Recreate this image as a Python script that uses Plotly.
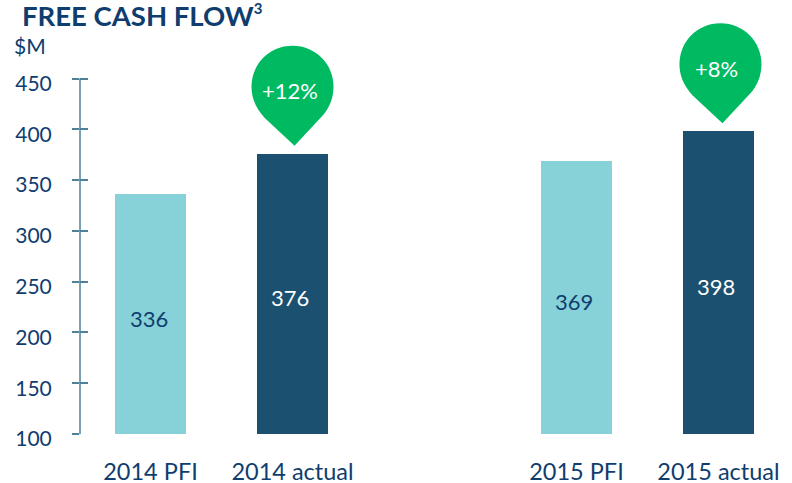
import plotly.graph_objects as go

categories = ["2014 PFI", "2014 actual", "2015 PFI", "2015 actual"]
positions = [0, 1, 3, 4]
values = [336, 376, 369, 398]
bar_colors = ["#86D2D8", "#1B5070", "#86D2D8", "#1B5070"]
label_colors = ["#0F3D6E", "#FFFFFF", "#0F3D6E", "#FFFFFF"]
y_ticks = [100, 150, 200, 250, 300, 350, 400, 450]
pins = [(1, 376, "+12%"), (4, 398, "+8%")]

NAVY = "#0F3D6E"
GREEN = "#00BA61"
AXIS = "#4F7F9A"
FONT = "Lato"
Y_TOP = 527.3  # headroom so that the pins are not clipped

fig = go.Figure()
fig.add_bar(x=positions, y=values, width=0.5, marker=dict(color=bar_colors, line_width=0),
            showlegend=False, hoverinfo="skip")
fig.add_scatter(x=[positions[0]], y=[y_ticks[0]], yaxis="y2", mode="markers",
                marker=dict(opacity=0), showlegend=False, hoverinfo="skip")

for p, v, c in zip(positions, values, label_colors):
    fig.add_annotation(x=p, y=(100 + v) / 2, text=str(v), showarrow=False, xshift=-2, yshift=-4,
                       font=dict(family=FONT, size=22, color=c))


def pin_path(dx):
    pts = [(2, 8), (-28, 36), (-37, 46), (-41, 56), (-41, 67), (-41, 90), (-23, 108), (0, 108),
           (23, 108), (41, 90), (41, 67), (41, 56), (37, 46), (30, 38)]
    s = [f"{x + dx},{y}" for x, y in pts]
    return (f"M {s[0]} L {s[1]} C {s[2]} {s[3]} {s[4]} C {s[5]} {s[6]} {s[7]} "
            f"C {s[8]} {s[9]} {s[10]} C {s[11]} {s[12]} {s[13]} Z")


for (p, v, t), dx in zip(pins, [0, 2]):
    fig.add_shape(type="path", xref="x", yref="y", xsizemode="pixel", ysizemode="pixel",
                  xanchor=p, yanchor=v, path=pin_path(dx), fillcolor=GREEN, line_width=0)
    fig.add_annotation(x=p, y=v, text=t, showarrow=False, yshift=63, xshift=-2,
                       font=dict(family=FONT, size=22, color="#FFFFFF"))

# Axis line stops at the top tick although the plot area continues above it
fig.add_shape(type="line", xref="x domain", yref="y", x0=0, x1=0, y0=y_ticks[0], y1=y_ticks[-1],
              line=dict(color=AXIS, width=1.5))

fig.add_annotation(xref="paper", yref="paper", x=(12 - 80) / 712, y=1 - 46 / 434, xanchor="left",
                   yanchor="middle", text="$M", showarrow=False,
                   font=dict(family=FONT, size=21, color=NAVY))

fig.update_layout(
    width=792, height=483, autosize=False, margin=dict(l=80, r=0, t=0, b=49, pad=0),
    paper_bgcolor="white", plot_bgcolor="white", bargap=0,
    title=dict(text='<b>FREE CASH FLOW<sup><span style="font-size:15px">3</span></sup></b>',
               x=22 / 792, xanchor="left", y=1 - 16 / 483, yanchor="middle",
               font=dict(family=FONT, size=27.5, color=NAVY)),
    xaxis=dict(range=[-0.4965, 4.518], tickvals=positions, ticktext=categories, ticks="",
               showline=False, showgrid=False, zeroline=False, ticklabelstandoff=21,
               automargin=False, tickfont=dict(family=FONT, size=23.5, color=NAVY)),
    yaxis=dict(range=[100, Y_TOP], tickvals=y_ticks, ticks="outside", ticklen=7, tickwidth=1.5,
               tickcolor=AXIS, showline=False, showgrid=False, zeroline=False,
               ticklabelstandoff=16, ticklabelshift=5, automargin=False,
               tickfont=dict(family=FONT, size=21, color=NAVY)),
    yaxis2=dict(range=[100, Y_TOP], overlaying="y", anchor="x", side="left", tickvals=y_ticks,
                ticks="inside", ticklen=8, tickwidth=1.5, tickcolor=AXIS, showticklabels=False,
                showgrid=False, zeroline=False, showline=False, automargin=False),
)
fig.write_html("out.html", config={"displayModeBar": False},
               post_script="document.body.style.margin='0';")
